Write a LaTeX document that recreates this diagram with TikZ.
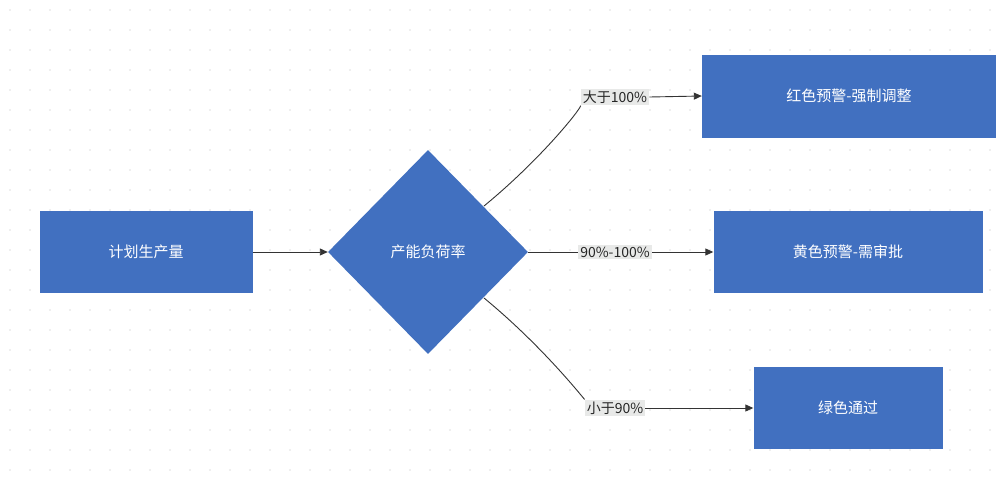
\documentclass[tikz,border=0pt]{standalone}
\usepackage{fontspec}
\setmainfont{Noto Sans CJK SC}
\usetikzlibrary{shapes.geometric,arrows.meta}
\definecolor{boxblue}{HTML}{4170C0}
\definecolor{lblbg}{HTML}{E8E9E8}
\definecolor{edge}{HTML}{333333}
\tikzset{
 box/.style={draw=none,fill=boxblue,text=white,font=\fontsize{15}{18}\selectfont,inner sep=0pt},
 lbl/.style={fill=lblbg,text=black!85,font=\fontsize{14}{16}\selectfont,inner sep=2pt},
 conn/.style={draw=edge,line width=0.9pt},
 arr/.style={conn,-{Triangle[length=8pt,width=7pt]}}
}
\begin{document}
\begin{tikzpicture}[x=1pt,y=-1pt]
\useasboundingbox (0,0) rectangle (1003,483);
\fill[white] (0,0) rectangle (1003,483);
\foreach \i in {0,...,50}{\foreach \j in {0,...,24}{\fill[black!12] (\i*20+10,\j*20+10) circle (0.9pt);}}
\node[box,minimum width=213pt,minimum height=82pt] (a) at (146,252) {计划生产量};
\node[box,diamond,minimum width=200pt,minimum height=204pt,aspect=1] (d) at (428,252) {产能负荷率};
\node[box,minimum width=294pt,minimum height=83pt] (r) at (849,96) {红色预警-强制调整};
\node[box,minimum width=269pt,minimum height=82pt] (y) at (848,252) {黄色预警-需审批};
\node[box,minimum width=189pt,minimum height=82pt] (g) at (848,408) {绿色通过};
\node[lbl] (l1) at (615,97) {大于100\%};
\node[lbl] (l2) at (615,252) {90\%-100\%};
\node[lbl] (l3) at (615,408) {小于90\%};
\coordinate (d1) at (484,206);
\coordinate (d3) at (484,298);
\draw[arr] (a.east) -- (d.west);
\draw[conn] (d1) .. controls (540,160) and (580,110) .. (l1.south west);
\draw[arr] (l1.east) -- (r.west);
\draw[conn] (d.east) -- (l2.west);
\draw[arr] (l2.east) -- (y.west);
\draw[conn] (d3) .. controls (540,344) and (580,394) .. (l3.north west);
\draw[arr] (l3.east) -- (g.west);
\end{tikzpicture}
\end{document}
